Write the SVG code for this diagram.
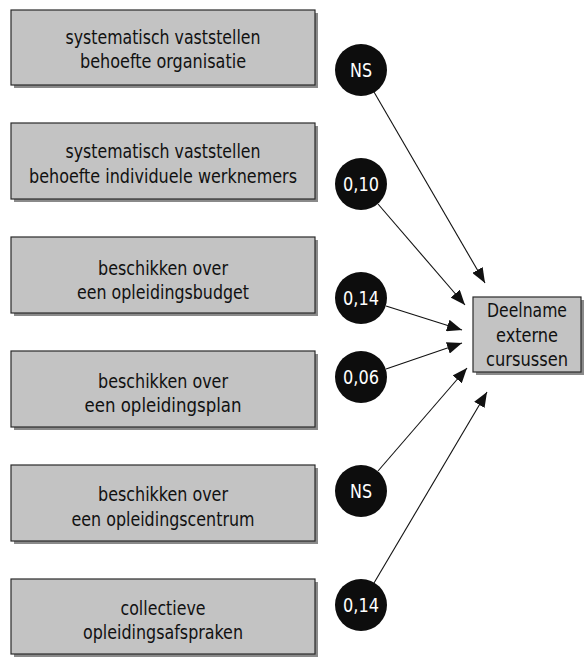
<svg xmlns="http://www.w3.org/2000/svg" width="585" height="659" viewBox="0 0 585 659">
<style>
.shadow{fill:#8a8a8a}
.box{fill:#c3c3c3;stroke:#2a2a2a;stroke-width:1.2}
.t{font-family:"DejaVu Sans Condensed","DejaVu Sans",sans-serif;font-size:20px;fill:#111111;text-anchor:middle}
.c{fill:#0d0d0d}
.ct{font-family:"DejaVu Sans Condensed","DejaVu Sans",sans-serif;font-size:20px;fill:#ffffff;text-anchor:middle}
.ln{stroke:#111;stroke-width:1.1;fill:none;marker-end:url(#ah)}
</style>
<defs>
<marker id="ah" markerUnits="userSpaceOnUse" markerWidth="16" markerHeight="12" refX="15" refY="6" orient="auto">
<path d="M0,0 L15,6 L0,12 z" fill="#111"/>
</marker>
</defs>
<rect width="585" height="659" fill="#ffffff"/>
<g id="box1">
<rect class="shadow" x="14" y="13" width="304" height="75"/>
<rect class="box" x="11" y="10" width="304" height="75"/>
<text class="t" x="163" y="44" textLength="195" lengthAdjust="spacingAndGlyphs">systematisch vaststellen</text>
<text class="t" x="163" y="68" textLength="166" lengthAdjust="spacingAndGlyphs">behoefte organisatie</text>
</g>
<g id="box2">
<rect class="shadow" x="14" y="126" width="304" height="76"/>
<rect class="box" x="11" y="123" width="304" height="76"/>
<text class="t" x="163" y="158" textLength="195" lengthAdjust="spacingAndGlyphs">systematisch vaststellen</text>
<text class="t" x="163" y="183" textLength="268" lengthAdjust="spacingAndGlyphs">behoefte individuele werknemers</text>
</g>
<g id="box3">
<rect class="shadow" x="14" y="240" width="304" height="76"/>
<rect class="box" x="11" y="237" width="304" height="76"/>
<text class="t" x="163" y="275" textLength="130" lengthAdjust="spacingAndGlyphs">beschikken over</text>
<text class="t" x="163" y="299" textLength="172" lengthAdjust="spacingAndGlyphs">een opleidingsbudget</text>
</g>
<g id="box4">
<rect class="shadow" x="14" y="354" width="304" height="76"/>
<rect class="box" x="11" y="351" width="304" height="76"/>
<text class="t" x="163" y="388" textLength="130" lengthAdjust="spacingAndGlyphs">beschikken over</text>
<text class="t" x="163" y="412" textLength="157" lengthAdjust="spacingAndGlyphs">een opleidingsplan</text>
</g>
<g id="box5">
<rect class="shadow" x="14" y="468" width="304" height="76"/>
<rect class="box" x="11" y="465" width="304" height="76"/>
<text class="t" x="163" y="501" textLength="130" lengthAdjust="spacingAndGlyphs">beschikken over</text>
<text class="t" x="163" y="526" textLength="183" lengthAdjust="spacingAndGlyphs">een opleidingscentrum</text>
</g>
<g id="box6">
<rect class="shadow" x="14" y="582" width="304" height="75"/>
<rect class="box" x="11" y="579" width="304" height="75"/>
<text class="t" x="163" y="615" textLength="85" lengthAdjust="spacingAndGlyphs">collectieve</text>
<text class="t" x="163" y="639" textLength="160" lengthAdjust="spacingAndGlyphs">opleidingsafspraken</text>
</g>
<g id="target">
<rect class="shadow" x="476" y="300" width="108" height="75"/>
<rect class="box" x="473" y="297" width="108" height="75"/>
<text class="t" x="527" y="317" textLength="80" lengthAdjust="spacingAndGlyphs">Deelname</text>
<text class="t" x="527" y="342" textLength="62" lengthAdjust="spacingAndGlyphs">externe</text>
<text class="t" x="527" y="366" textLength="82" lengthAdjust="spacingAndGlyphs">cursussen</text>
</g>
<g id="connectors">
<line class="ln" x1="374" y1="92" x2="485" y2="283"/>
<line class="ln" x1="378" y1="204" x2="465" y2="305"/>
<line class="ln" x1="386" y1="306" x2="462" y2="330"/>
<line class="ln" x1="386" y1="369" x2="462" y2="343"/>
<line class="ln" x1="378" y1="471" x2="467" y2="368"/>
<line class="ln" x1="374" y1="583" x2="487" y2="392"/>
</g>
<g id="c1"><circle class="c" cx="361" cy="70" r="26"/><text class="ct" x="361" y="77" textLength="22" lengthAdjust="spacingAndGlyphs">NS</text></g>
<g id="c2"><circle class="c" cx="361" cy="184" r="26"/><text class="ct" x="361" y="191" textLength="36" lengthAdjust="spacingAndGlyphs">0,10</text></g>
<g id="c3"><circle class="c" cx="361" cy="298" r="26"/><text class="ct" x="361" y="305" textLength="36" lengthAdjust="spacingAndGlyphs">0,14</text></g>
<g id="c4"><circle class="c" cx="361" cy="377" r="26"/><text class="ct" x="361" y="384" textLength="36" lengthAdjust="spacingAndGlyphs">0,06</text></g>
<g id="c5"><circle class="c" cx="361" cy="491" r="26"/><text class="ct" x="361" y="498" textLength="22" lengthAdjust="spacingAndGlyphs">NS</text></g>
<g id="c6"><circle class="c" cx="361" cy="605" r="26"/><text class="ct" x="361" y="612" textLength="36" lengthAdjust="spacingAndGlyphs">0,14</text></g>
</svg>
